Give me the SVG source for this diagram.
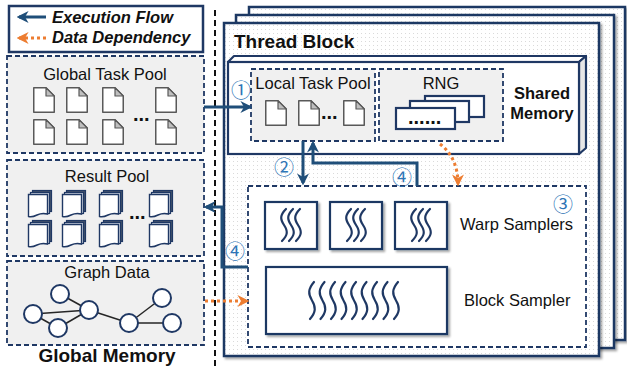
<svg xmlns="http://www.w3.org/2000/svg" xmlns:xlink="http://www.w3.org/1999/xlink" width="627" height="369" viewBox="0 0 627 369">
<style>
text{font-family:"Liberation Sans",Arial,sans-serif;fill:#111}
.lbl{font-size:16.5px}
.bold{font-weight:bold}
.pool{fill:#f0f0f0;stroke:#1f3864;stroke-width:1.8;stroke-dasharray:5 3}
.tb{fill:url(#dots);stroke:#1f3864;stroke-width:2.5}
.solid{fill:#fff;stroke:#1f3864;stroke-width:2.2}
.flow{fill:none;stroke:#1f4e79;stroke-width:3}
.data{fill:none;stroke:#ed7d31;stroke-width:3;stroke-dasharray:3 3}
.num{font-family:"Noto Sans CJK SC","DejaVu Sans",sans-serif;font-size:20px;fill:#2e75b6;text-anchor:middle;dominant-baseline:central}
.sq{fill:none;stroke:#1f3864;stroke-width:2.2;stroke-linecap:round}
.edge{stroke:#262626;stroke-width:1.5}
.gn{fill:#fff;stroke:#1f3864;stroke-width:2}
.dots{font-size:20px;font-weight:bold}
</style>
<defs>
<pattern id="dots" width="4" height="4" patternUnits="userSpaceOnUse"><rect width="4" height="4" fill="#fff"/><rect x="1" y="1" width="1" height="1" fill="#dadada"/></pattern>
<filter id="sh" x="-5%" y="-5%" width="115%" height="115%"><feDropShadow dx="2" dy="2" stdDeviation="1.2" flood-color="#000" flood-opacity="0.35"/></filter>
<marker id="ab" viewBox="0 0 10 10" refX="8" refY="5" markerWidth="4" markerHeight="4" orient="auto-start-reverse"><path d="M0,0 L10,5 L0,10 L3,5 Z" fill="#1f4e79"/></marker>
<marker id="ao" viewBox="0 0 10 10" refX="8" refY="5" markerWidth="4" markerHeight="4" orient="auto-start-reverse"><path d="M0,0 L10,5 L0,10 L3,5 Z" fill="#ed7d31"/></marker>
<g id="doc"><path d="M0.75,0.75 H13 L21.25,9 V25.25 H0.75 Z" fill="#fff" stroke="#595959" stroke-width="1.5" stroke-linejoin="round"/><path d="M13,0.75 V9 H21.25 Z" fill="#bfbfbf" stroke="#595959" stroke-width="1.2" stroke-linejoin="round"/></g>
<g id="res"><rect x="4.5" y="0.5" width="19" height="21" fill="#44546a" stroke="#1f3864" stroke-width="1.2"/><rect x="2.5" y="2.5" width="19" height="21" fill="#d6dce5" stroke="#1f3864" stroke-width="1.2"/><path d="M0.5,4.5 H19.5 V24 Q14,22.5 9,25 Q4,27.5 0.5,26.5 Z" fill="#fff" stroke="#1f3864" stroke-width="1.4"/></g>
<path id="sqs" class="sq" d="M2,0 C-4,6 -4,10 0,16 C4,22 4,26 -2,32"/>
<path id="sql" class="sq" d="M2,0 C-4,7 -4,12 0,18.5 C4,25 4,30 -2,37"/>
<g id="card"><rect x="0" y="0" width="59" height="21" fill="#fff" stroke="#1f3864" stroke-width="2.2"/><text x="12" y="15.5" class="dots">......</text></g>
</defs>

<rect width="627" height="369" fill="#fff"/>

<!-- legend -->
<g id="legend">
<rect x="9" y="6" width="194" height="46" fill="#fff" stroke="#1f3864" stroke-width="2.5"/>
<path class="flow" d="M46,17 H19" marker-end="url(#ab)"/>
<path class="data" d="M46,38 H19" marker-end="url(#ao)"/>
<text x="52" y="23" class="bold" style="font-size:16.5px;font-style:italic">Execution Flow</text>
<text x="52" y="43" class="bold" style="font-size:16.5px;font-style:italic">Data Dependency</text>
</g>

<line x1="215" y1="10" x2="215" y2="366" stroke="#111" stroke-width="2" stroke-dasharray="6 4"/>

<!-- global memory -->
<g id="global-task-pool">
<rect class="pool" x="7" y="56" width="197" height="97"/>
<text x="105" y="80" class="lbl" text-anchor="middle">Global Task Pool</text>
<use xlink:href="#doc" x="33" y="87"/><use xlink:href="#doc" x="66" y="87"/><use xlink:href="#doc" x="102" y="87"/><use xlink:href="#doc" x="155" y="87"/>
<use xlink:href="#doc" x="33" y="119"/><use xlink:href="#doc" x="66" y="119"/><use xlink:href="#doc" x="102" y="119"/><use xlink:href="#doc" x="155" y="119"/>
<text x="133" y="121" class="dots">...</text>
</g>
<g id="result-pool">
<rect class="pool" x="7" y="160" width="197" height="96"/>
<text x="107" y="182" class="lbl" text-anchor="middle">Result Pool</text>
<use xlink:href="#res" x="28" y="190"/><use xlink:href="#res" x="62" y="190"/><use xlink:href="#res" x="99" y="190"/><use xlink:href="#res" x="149" y="190"/>
<use xlink:href="#res" x="28" y="220"/><use xlink:href="#res" x="62" y="220"/><use xlink:href="#res" x="99" y="220"/><use xlink:href="#res" x="149" y="220"/>
<text x="129" y="219" class="dots">...</text>
</g>
<g id="graph-data">
<rect class="pool" x="7" y="261" width="197" height="84"/>
<text x="107" y="278" class="lbl" text-anchor="middle">Graph Data</text>
<line class="edge" x1="33" y1="314" x2="89" y2="310"/>
<line class="edge" x1="60" y1="294" x2="89" y2="310"/>
<line class="edge" x1="33" y1="314" x2="58" y2="328"/>
<line class="edge" x1="58" y1="328" x2="89" y2="310"/>
<line class="edge" x1="89" y1="310" x2="129" y2="323"/>
<line class="edge" x1="129" y1="323" x2="162" y2="298"/>
<line class="edge" x1="129" y1="323" x2="172" y2="323"/>
<circle class="gn" cx="33" cy="314" r="9"/><circle class="gn" cx="60" cy="294" r="9"/><circle class="gn" cx="89" cy="310" r="9"/><circle class="gn" cx="58" cy="328" r="9"/><circle class="gn" cx="129" cy="323" r="9"/><circle class="gn" cx="162" cy="298" r="9"/><circle class="gn" cx="172" cy="323" r="9"/>
</g>
<text x="107" y="362" class="bold" style="font-size:19px" text-anchor="middle">Global Memory</text>

<!-- thread blocks -->
<g id="thread-block-back"><rect class="tb" x="249" y="7" width="376" height="333" filter="url(#sh)"/></g>
<g id="thread-block-mid"><rect class="tb" x="236" y="15" width="378" height="333" filter="url(#sh)"/></g>
<g id="thread-block">
<rect class="tb" x="224" y="23" width="375" height="333" filter="url(#sh)"/>
<text x="234" y="48" class="bold" style="font-size:19px">Thread Block</text>
</g>

<g id="shared-memory">
<path d="M228,62 L234,56 H586 L579,62 Z" fill="#fff" stroke="#1f3864" stroke-width="2.2" stroke-linejoin="round"/>
<path d="M579,62 L586,56 V148 L579,154 Z" fill="#e6e6e6" stroke="#1f3864" stroke-width="2.2" stroke-linejoin="round"/>
<rect x="228" y="62" width="351" height="92" fill="#fff" stroke="#1f3864" stroke-width="2.2"/>
<text x="542" y="99" class="bold" style="font-size:16.5px" text-anchor="middle">Shared</text>
<text x="542" y="119" class="bold" style="font-size:16.5px" text-anchor="middle">Memory</text>
</g>
<g id="local-task-pool">
<rect class="pool" x="251" y="69" width="124" height="72"/>
<text x="313" y="89" class="lbl" text-anchor="middle">Local Task Pool</text>
<use xlink:href="#doc" x="265" y="100"/><use xlink:href="#doc" x="298" y="100"/><use xlink:href="#doc" x="343" y="100"/>
<text x="321" y="119" class="dots">...</text>
</g>
<g id="rng">
<rect class="pool" x="379" y="69" width="124" height="72"/>
<text x="441" y="89" class="lbl" text-anchor="middle">RNG</text>
<use xlink:href="#card" x="425" y="96"/>
<use xlink:href="#card" x="410" y="101"/>
<use xlink:href="#card" x="396" y="108"/>
</g>

<g id="samplers">
<rect x="248" y="186" width="338" height="161" fill="#fff" stroke="#1f3864" stroke-width="1.8" stroke-dasharray="5 3"/>
<g id="warp1"><rect class="solid" x="265" y="202" width="52" height="47" filter="url(#sh)"/><use xlink:href="#sqs" x="284" y="209"/><use xlink:href="#sqs" x="291" y="209"/><use xlink:href="#sqs" x="298" y="209"/></g>
<g id="warp2"><rect class="solid" x="330" y="202" width="52" height="47" filter="url(#sh)"/><use xlink:href="#sqs" x="349" y="209"/><use xlink:href="#sqs" x="356" y="209"/><use xlink:href="#sqs" x="363" y="209"/></g>
<g id="warp3"><rect class="solid" x="395" y="202" width="52" height="47" filter="url(#sh)"/><use xlink:href="#sqs" x="414" y="209"/><use xlink:href="#sqs" x="421" y="209"/><use xlink:href="#sqs" x="428" y="209"/></g>
<text x="460" y="230" class="lbl">Warp Samplers</text>
<g id="block-sampler"><rect class="solid" x="266" y="267" width="181" height="67" filter="url(#sh)"/>
<use xlink:href="#sql" x="312" y="282"/><use xlink:href="#sql" x="322.5" y="282"/><use xlink:href="#sql" x="333" y="282"/><use xlink:href="#sql" x="343.5" y="282"/><use xlink:href="#sql" x="354" y="282"/><use xlink:href="#sql" x="364.5" y="282"/><use xlink:href="#sql" x="375" y="282"/><use xlink:href="#sql" x="385.5" y="282"/><use xlink:href="#sql" x="396" y="282"/></g>
<text x="464" y="306" class="lbl">Block Sampler</text>
</g>

<g id="connectors">
<path class="flow" d="M204,107 H250" marker-end="url(#ab)"/>
<path class="flow" d="M303,141 V183" marker-end="url(#ab)"/>
<path class="flow" d="M417,186 V163 H313 V143" marker-end="url(#ab)"/>
<path class="flow" d="M248,267 H222 V207 H206" marker-end="url(#ab)"/>
<path class="data" d="M440,144 Q458,158 458,184" marker-end="url(#ao)"/>
<path class="data" d="M205,301 H247" marker-end="url(#ao)"/>
<text x="241" y="89" class="num">①</text>
<text x="284" y="166" class="num">②</text>
<text x="563" y="203" class="num">③</text>
<text x="402" y="176" class="num">④</text>
<text x="235" y="250" class="num">④</text>
</g>
</svg>
